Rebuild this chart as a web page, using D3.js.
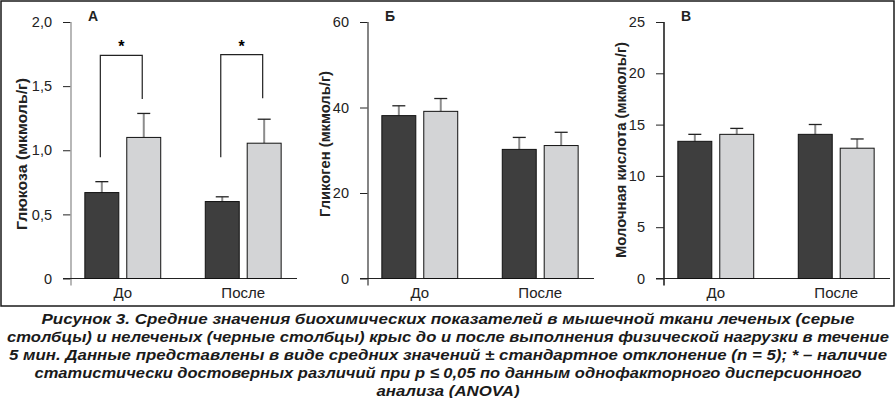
<!DOCTYPE html>
<html>
<head>
<meta charset="utf-8">
<script src="https://cdn.jsdelivr.net/npm/d3@7"></script>
<style>
  body { margin: 0; background: #fff; }
  svg { display: block; font-family: "Liberation Sans", Arial, sans-serif; }
</style>
</head>
<body>
<svg width="896" height="398"></svg>
<script>
// groups on x axis
const groups = ["До", "После"]
const series = ["нелеченые", "леченые"]

// panel A - glucose
const glucoseUntreated = [0.67, 0.60]
const glucoseUntreatedSD = [0.085, 0.037]
const glucoseTreated = [1.10, 1.055]
const glucoseTreatedSD = [0.187, 0.187]
const glucoseTicks = [0, 0.5, 1.0, 1.5, 2.0]

// panel Б - glycogen
const glycogenUntreated = [38.1, 30.2]
const glycogenUntreatedSD = [2.3, 2.8]
const glycogenTreated = [39.1, 31.1]
const glycogenTreatedSD = [3.0, 3.1]
const glycogenTicks = [0, 20, 40, 60]

// panel В - lactate
const lactateUntreated = [13.37, 14.05]
const lactateUntreatedSD = [0.68, 0.96]
const lactateTreated = [14.05, 12.7]
const lactateTreatedSD = [0.58, 0.9]
const lactateTicks = [0, 5, 10, 15, 20, 25]

// significance brackets (panel A): [group, top, left leg bottom, right leg bottom]
const glucoseBrackets = [["До", 1.74, 0.945, 1.40], ["После", 1.745, 0.945, 1.405]]

const captionLines = [
  "Рисунок 3. Средние значения биохимических показателей в мышечной ткани леченых (серые",
  "столбцы) и нелеченых (черные столбцы) крыс до и после выполнения физической нагрузки в течение",
  "5 мин. Данные представлены в виде средних значений ± стандартное отклонение (n = 5); * – наличие",
  "статистически достоверных различий при p ≤ 0,05 по данным однофакторного дисперсионного",
  "анализа (ANOVA)"
]
const captionWidths = [813, 882, 878, 827, 143]

const colors = {"нелеченые": "#3e3e3e", "леченые": "#d3d4d6"}

const svg = d3.select("svg")
svg.append("rect").attr("x", 1).attr("y", 1).attr("width", 893).attr("height", 305)
   .attr("fill", "none").attr("stroke", "#1a1a1a").attr("stroke-width", 1.5)

const panels = [
  {letter: "А", title: "Глюкоза (мкмоль/г)", axisX: 71, titleX: 22, titleY: 154, titleLen: 152, max: 2, ticks: glucoseTicks,
   fmt: d => d === 0 ? "0" : d3.format(".1f")(d).replace(".", ","),
   means: [glucoseUntreated, glucoseTreated], sds: [glucoseUntreatedSD, glucoseTreatedSD],
   axisColor: "#a6a6a6", brackets: glucoseBrackets},
  {letter: "Б", title: "Гликоген (мкмоль/г)", axisX: 368, titleX: 325, titleY: 144, titleLen: 146, max: 60, ticks: glycogenTicks,
   fmt: d3.format("d"), means: [glycogenUntreated, glycogenTreated], sds: [glycogenUntreatedSD, glycogenTreatedSD],
   axisColor: "#666", brackets: []},
  {letter: "В", title: "Молочная кислота (мкмоль/г)", axisX: 664, titleX: 621, titleY: 150, titleLen: 216, max: 25, ticks: lactateTicks,
   fmt: d3.format("d"), means: [lactateUntreated, lactateTreated], sds: [lactateUntreatedSD, lactateTreatedSD],
   axisColor: "#222", brackets: []}
]

const yTop = 22, yBottom = 278.5

panels.forEach(p => {
  const g = svg.append("g")
  const y = d3.scaleLinear().domain([0, p.max]).range([yBottom, yTop])
  const x = d3.scaleBand().domain(groups).range([p.axisX, p.axisX + 224])
              .paddingInner(0.37).paddingOuter(0.115)
  const xs = d3.scaleBand().domain(series).range([0, x.bandwidth()]).paddingInner(0.19)

  // y axis ticks + labels
  const ax = g.append("g").attr("transform", `translate(${p.axisX},0)`)
     .call(d3.axisLeft(y).tickValues(p.ticks).tickFormat(p.fmt).tickSize(8).tickPadding(11))
  ax.select(".domain").remove()
  ax.selectAll("line").attr("stroke", "#222")
  ax.selectAll("text").attr("font-size", 14.5).attr("fill", "#222")
    .attr("font-family", "Liberation Sans, Arial, sans-serif")

  // y axis line (runs a bit below zero)
  g.append("line").attr("x1", p.axisX).attr("x2", p.axisX).attr("y1", y(p.max)).attr("y2", yBottom + 7)
   .attr("stroke", p.axisColor).attr("stroke-width", 1.6)
  // x axis line
  g.append("line").attr("x1", p.axisX - 8).attr("x2", p.axisX + 226).attr("y1", yBottom).attr("y2", yBottom)
   .attr("stroke", "#222").attr("stroke-width", 1.2)

  // bars
  series.forEach((s, si) => {
    groups.forEach((grp, gi) => {
      const v = p.means[si][gi], sd = p.sds[si][gi]
      const bx = x(grp) + xs(s), cx = bx + xs.bandwidth() / 2
      // error bar
      g.append("line").attr("x1", cx).attr("x2", cx).attr("y1", y(v)).attr("y2", y(v + sd))
       .attr("stroke", "#8c8c8c").attr("stroke-width", 2)
      g.append("line").attr("x1", cx - 6.5).attr("x2", cx + 6.5).attr("y1", y(v + sd)).attr("y2", y(v + sd))
       .attr("stroke", "#222").attr("stroke-width", 1.3)
      g.append("rect").attr("x", bx).attr("y", y(v)).attr("width", xs.bandwidth()).attr("height", y(0) - y(v))
       .attr("fill", colors[s]).attr("stroke", "#111").attr("stroke-width", 1)
    })
  })

  // category labels
  g.selectAll(".cat").data(groups).join("text")
   .attr("x", d => x(d) + x.bandwidth() / 2).attr("y", 298)
   .attr("text-anchor", "middle").attr("font-size", 15).attr("fill", "#222").text(d => d)

  // significance brackets
  p.brackets.forEach(b => {
    const lx = x(b[0]) + xs(series[0]) + xs.bandwidth() / 2 - 1.5
    const rx = x(b[0]) + xs(series[1]) + xs.bandwidth() / 2 - 1.5
    g.append("path")
     .attr("d", `M${lx},${y(b[2])}V${y(b[1])}H${rx}V${y(b[3])}`)
     .attr("fill", "none").attr("stroke", "#222").attr("stroke-width", 1.2)
    g.append("text").attr("x", (lx + rx) / 2).attr("y", y(b[1]) - 3)
     .attr("text-anchor", "middle").attr("font-size", 16).attr("font-weight", "bold").text("*")
  })

  // panel letter
  g.append("text").attr("x", p.axisX + 17).attr("y", 21).attr("font-size", 14)
   .attr("font-weight", "bold").attr("fill", "#222").text(p.letter)

  // y title
  g.append("text").attr("transform", `translate(${p.titleX},${p.titleY}) rotate(-90)`)
   .attr("text-anchor", "middle").attr("dy", "0.35em").attr("font-size", 14.5).attr("font-weight", "bold")
   .attr("fill", "#222").attr("textLength", p.titleLen).attr("lengthAdjust", "spacingAndGlyphs")
   .text(p.title)
})

// caption
svg.selectAll(".caption").data(captionLines).join("text")
   .attr("x", 448).attr("y", (d, i) => 323.5 + i * 18.2)
   .attr("text-anchor", "middle").attr("font-size", 15.5).attr("font-weight", "bold")
   .attr("font-style", "italic").attr("fill", "#1a1a1a")
   .attr("textLength", (d, i) => captionWidths[i]).attr("lengthAdjust", "spacingAndGlyphs")
   .text(d => d)
</script>
</body>
</html>
